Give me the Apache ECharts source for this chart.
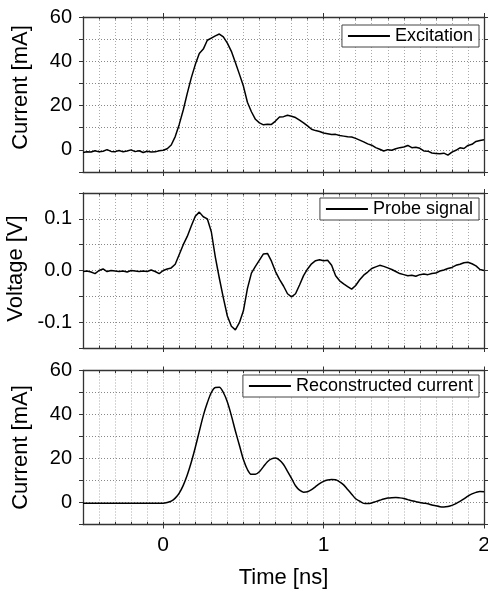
<!DOCTYPE html>
<html><head><meta charset="utf-8">
<script src="https://cdn.jsdelivr.net/npm/echarts@6/dist/echarts.min.js"></script>
<style>html,body{margin:0;padding:0;background:#fff}#c{width:488px;height:593px}</style>
</head><body><div id="c"></div>
<script>
// ---- data ----
const time = [-0.5,-0.475,-0.45,-0.425,-0.4,-0.375,-0.35,-0.325,-0.3,-0.275,-0.25,-0.225,-0.2,-0.175,-0.15,-0.125,-0.1,-0.075,-0.05,-0.025,
0,0.025,0.05,0.075,0.1,0.125,0.15,0.175,0.2,0.225,0.25,0.275,0.3,0.325,0.35,0.375,0.4,0.425,0.45,0.475,
0.5,0.525,0.55,0.575,0.6,0.625,0.65,0.675,0.7,0.725,0.75,0.775,0.8,0.825,0.85,0.875,0.9,0.925,0.95,0.975,
1,1.025,1.05,1.075,1.1,1.125,1.15,1.175,1.2,1.225,1.25,1.275,1.3,1.325,1.35,1.375,1.4,1.425,1.45,1.475,
1.5,1.525,1.55,1.575,1.6,1.625,1.65,1.675,1.7,1.725,1.75,1.775,1.8,1.825,1.85,1.875,1.9,1.925,1.95,1.975,2];

const excitation = [-1.2,-0.9,-1.0,-0.4,-0.9,-0.6,0.1,-0.7,-0.8,-0.3,-0.9,-0.5,0.0,-0.8,-0.4,-1.2,-0.6,-1.0,-0.9,-0.4,
-0.2,0.5,2.2,6.0,11.5,18.0,25.5,32.5,38.5,43.5,45.5,49.5,50.5,51.5,52.3,51.0,48.2,44.5,39.5,34.2,
28.8,21.5,17.2,13.8,12.2,11.3,11.6,11.5,13.0,14.8,15.0,15.6,15.2,14.6,13.4,12.2,10.8,9.3,8.7,8.3,
7.6,7.3,6.9,7.0,6.5,6.2,5.9,5.8,5.2,4.4,3.6,2.7,2.1,1.0,0.3,-0.5,0.1,-0.2,0.5,1.0,
1.3,2.0,1.0,1.2,0.7,-0.5,-0.6,-1.4,-1.6,-1.8,-1.5,-2.4,-1.0,-0.2,0.9,0.6,2.0,2.5,3.8,4.2,
4.6];

const probeSignal = [-0.002,-0.001,-0.003,-0.006,0.000,0.003,-0.002,0.000,-0.001,-0.002,-0.001,-0.003,0.000,-0.001,-0.002,-0.001,-0.002,0.001,-0.002,-0.006,
0.000,0.003,0.005,0.012,0.031,0.050,0.066,0.086,0.105,0.113,0.104,0.100,0.075,0.026,-0.015,-0.053,-0.088,-0.108,-0.115,-0.101,
-0.078,-0.035,-0.005,0.008,0.020,0.032,0.033,0.018,-0.002,-0.017,-0.030,-0.045,-0.051,-0.045,-0.028,-0.010,0.003,0.013,0.019,0.021,
0.019,0.020,0.010,-0.010,-0.020,-0.026,-0.031,-0.036,-0.029,-0.018,-0.009,-0.003,0.004,0.007,0.010,0.008,0.005,0.002,-0.002,-0.006,
-0.008,-0.010,-0.009,-0.011,-0.008,-0.007,-0.008,-0.006,-0.005,-0.001,0.001,0.004,0.006,0.010,0.012,0.015,0.016,0.013,0.009,0.002,
0.000];

const reconstructed = [-0.3,-0.3,-0.3,-0.3,-0.3,-0.3,-0.3,-0.3,-0.3,-0.3,-0.3,-0.3,-0.3,-0.3,-0.3,-0.3,-0.3,-0.3,-0.3,-0.3,
-0.3,0.0,0.6,2.0,4.3,7.8,12.5,18.3,25.0,32.3,39.5,45.3,50.0,52.3,52.4,50.0,45.7,39.5,32.5,26.0,
19.5,15.0,12.8,12.8,14.0,16.3,18.5,19.8,20.2,19.3,17.3,14.2,11.0,7.6,5.6,4.7,4.9,5.8,7.2,8.6,
9.6,10.2,10.4,10.3,9.4,8.0,5.9,3.8,1.7,0.6,-0.4,-0.5,-0.2,0.4,1.0,1.6,2.0,2.2,2.3,2.1,
1.8,1.3,0.8,0.4,0.0,-0.3,-0.6,-1.1,-1.5,-1.9,-2.0,-1.8,-1.3,-0.5,0.5,1.6,2.9,3.9,4.6,5.0,
4.9];

const seriesNames = ['Excitation', 'Probe signal', 'Reconstructed current'];
const yAxisNames = ['Current [mA]', 'Voltage [V]', 'Current [mA]'];
const xTickLabels = [0, 1, 2];
const xAxisName = 'Time [ns]';
const yRanges = [[-10, 60, 10], [-0.15, 0.15, 0.05], [-10, 60, 10]];
const seriesValues = [excitation, probeSignal, reconstructed];

// ---- chart ----
const FONT = '"Liberation Sans", Arial, sans-serif';
const AX = '#333';
const gridTops = [17, 193, 370.5];
const gridHeights = [155, 155, 154];
const legendTops = [25, 198, 375];
const namePads = [[0, 0, 0, 14], [0, 0, 0, 4], [0, 0, 0, 0]];

const grid = [], xAxis = [], yAxis = [], series = [], legend = [];
for (let g = 0; g < 3; g++) {
  grid.push({left: 83, right: 4, top: gridTops[g], height: gridHeights[g], containLabel: false, outerBoundsMode: 'none'});
  const last = g === 2;
  const baseX = {gridIndex: g, type: 'value', min: -0.5, max: 2, interval: 0.1, silent: true};
  xAxis.push(Object.assign({}, baseX, {
    position: 'bottom',
    axisLine: {show: true, onZero: false, lineStyle: {color: AX, width: 1.3}},
    axisTick: {show: true, inside: true, length: 2.5, lineStyle: {color: AX, width: 1}},
    splitLine: {show: true, lineStyle: {color: '#aaa', type: [1, 2], width: 1}},
    axisLabel: last ? {show: true, customValues: xTickLabels, margin: 10, color: '#000', fontSize: 21, fontFamily: FONT, showMaxLabel: true, hideOverlap: false} : {show: false},
    name: last ? xAxisName : '', nameLocation: 'middle', nameGap: 42,
    nameTextStyle: {color: '#000', fontSize: 22, fontFamily: FONT}
  }));
  xAxis.push(Object.assign({}, baseX, {
    position: 'top',
    axisLine: {show: true, onZero: false, lineStyle: {color: AX, width: 1.3}},
    axisTick: {show: true, inside: true, length: 2.5, lineStyle: {color: AX, width: 1}},
    splitLine: {show: false}, axisLabel: {show: false}
  }));
  ['bottom', 'top'].forEach(p => {
    xAxis.push(Object.assign({}, baseX, {
      position: p,
      axisLine: {show: false, onZero: false},
      axisTick: {show: true, inside: false, length: 4, customValues: xTickLabels, lineStyle: {color: AX, width: 1}},
      splitLine: {show: false}, axisLabel: {show: false}
    }));
  });
  const [mn, mx, iv] = yRanges[g];
  const fmt = g === 1
    ? (v => Math.abs(v * 10 - Math.round(v * 10)) < 1e-6 ? (Math.round(v * 10) / 10).toFixed(1) : '')
    : (v => (Math.round(v) % 20 === 0 ? String(Math.round(v)) : ''));
  yAxis.push({
    gridIndex: g, type: 'value', min: mn, max: mx, interval: iv, position: 'left', silent: true,
    axisLine: {show: true, onZero: false, lineStyle: {color: AX, width: 1.3}},
    axisTick: {show: true, inside: false, length: 4, lineStyle: {color: AX, width: 1}},
    splitLine: {show: true, lineStyle: {color: '#888', type: [1, 2], width: 1}},
    axisLabel: {show: true, formatter: fmt, margin: 11, color: '#000', fontSize: 20, fontFamily: FONT, showMinLabel: true, showMaxLabel: true},
    name: yAxisNames[g], nameLocation: 'middle', nameGap: 51,
    nameTextStyle: {color: '#000', fontSize: 22, fontFamily: FONT, padding: namePads[g]}
  });
  yAxis.push({
    gridIndex: g, type: 'value', min: mn, max: mx, interval: iv, position: 'right', silent: true,
    axisLine: {show: true, onZero: false, lineStyle: {color: AX, width: 1.3}},
    axisTick: {show: true, inside: false, length: 4, lineStyle: {color: AX, width: 1}},
    splitLine: {show: false}, axisLabel: {show: false}
  });
  series.push({
    name: seriesNames[g], type: 'line', xAxisIndex: g * 4, yAxisIndex: g * 2,
    data: time.map((t, i) => [t, seriesValues[g][i]]),
    showSymbol: false, symbol: 'none', smooth: g === 2 ? 0.3 : false,
    color: '#000', lineStyle: {color: '#000', width: 1.5}, silent: true, animation: false, z: 5
  });
  legend.push({
    data: [seriesNames[g]], right: 9, top: legendTops[g], orient: 'horizontal',
    icon: 'rect', itemWidth: 42, itemHeight: 2, itemGap: 0, padding: [2, 6, 2, 6],
    borderColor: '#444', borderWidth: 1, backgroundColor: '#fff', borderRadius: 0,
    selectedMode: false, z: 10,
    textStyle: {fontSize: 18, color: '#000', fontFamily: FONT}
  });
}

const chart = echarts.init(document.getElementById('c'), null, {renderer: 'canvas'});
chart.setOption({backgroundColor: '#fff', animation: false, grid, xAxis, yAxis, series, legend});
</script>
</body></html>
